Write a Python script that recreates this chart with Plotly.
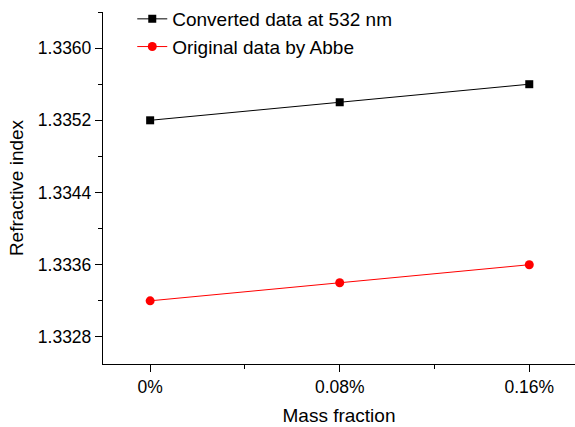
import plotly.graph_objects as go

x_vals = [0.0, 0.08, 0.16]
x_labels = ["0%", "0.08%", "0.16%"]
converted = [1.3352, 1.3354, 1.3356]
original = [1.3332, 1.3334, 1.3336]

fig = go.Figure()
fig.add_trace(go.Scatter(
    x=x_vals, y=converted, mode="lines+markers", name="Converted data at 532 nm",
    line=dict(color="black", width=1),
    marker=dict(symbol="square", size=8, color="black")))
fig.add_trace(go.Scatter(
    x=x_vals, y=original, mode="lines+markers", name="Original data by Abbe",
    line=dict(color="red", width=1),
    marker=dict(symbol="circle", size=9, color="red")))

font = "Liberation Sans, Arial, sans-serif"
fig.update_layout(
    width=575, height=427,
    margin=dict(l=103, r=0, t=12, b=63),
    paper_bgcolor="white", plot_bgcolor="white",
    font=dict(family=font, size=17.5, color="black"),
    showlegend=True,
    legend=dict(x=0.062, y=1.035, xanchor="left", yanchor="top",
                bgcolor="rgba(0,0,0,0)", font=dict(size=19),
                tracegroupgap=0),
    xaxis=dict(
        range=[-0.0199, 0.1793], tickvals=x_vals, ticktext=x_labels,
        showgrid=False, zeroline=False, showline=True, linecolor="black", linewidth=1.3,
        ticks="outside", ticklen=7, tickwidth=1.3, tickcolor="black",
        minor=dict(tickvals=[0.04, 0.12], ticks="outside", ticklen=4, tickwidth=1.3, tickcolor="black"),
        title=dict(text="Mass fraction", font=dict(size=19), standoff=12),
        tickfont=dict(size=17.5)),
    yaxis=dict(
        range=[1.33250, 1.33640], tick0=1.3328, dtick=0.0008, tickformat=".4f",
        showgrid=False, zeroline=False, showline=True, linecolor="black", linewidth=1.3,
        ticks="outside", ticklen=7, tickwidth=1.3, tickcolor="black",
        minor=dict(tick0=1.3328, dtick=0.0004, ticks="outside", ticklen=4, tickwidth=1.3, tickcolor="black"),
        title=dict(text="Refractive index", font=dict(size=19), standoff=9),
        tickfont=dict(size=17.5)),
)

fig.write_html("out.html")
